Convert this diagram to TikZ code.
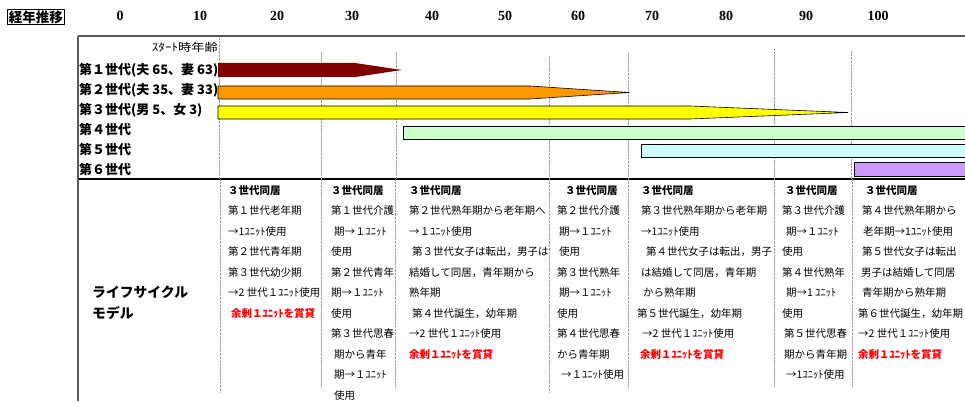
\documentclass[tikz,border=0pt]{standalone}
\usepackage{fontspec}
\newfontfamily\jp{Noto Sans CJK JP}
\newfontfamily\numf{Liberation Serif}
\definecolor{gdred}{HTML}{800000}
\definecolor{gorange}{HTML}{FF9900}
\definecolor{gyellow}{HTML}{FFFF00}
\definecolor{ggreen}{HTML}{CCFFCC}
\definecolor{gcyan}{HTML}{CCFFFF}
\definecolor{gpurple}{HTML}{CC99FF}
\newcommand{\redtx}[1]{\textcolor{red}{\textbf{#1}}}
\begin{document}
\begin{tikzpicture}[x=1pt,y=-1pt,
  axlab/.style={font=\numf\bfseries\fontsize{14}{16}\selectfont, inner sep=0},
  genlab/.style={anchor=west, inner sep=0, font=\jp\bfseries\fontsize{13}{15}\selectfont},
  colt/.style={anchor=north west, inner sep=0, align=left, font=\jp\fontsize{10.5}{20.5}\selectfont},
  grid/.style={gray!80, line width=0.6pt, dash pattern=on 0.7pt off 0.7pt},
  frame/.style={line width=1.2pt},
  barline/.style={draw=black, line width=0.6pt}]
\useasboundingbox (0,0) rectangle (965,401);
\fill[white] (0,0) rectangle (965,401);
\clip (0,0) rectangle (965,401);

% header
\node[draw, line width=0.8pt, inner sep=1.2pt, font=\jp\bfseries\fontsize{13.5}{15}\selectfont] (hdr) at (36,17) {経年推移};
\foreach \v/\x in {0/120,10/200,20/277,30/352,40/432,50/505,60/578,70/652,80/726,90/806,100/878}
  \node[axlab] (ax\v) at (\x,16) {\v};

% frame
\draw[frame, gray!70!black] (78,36) -- (965,36);
\draw[frame] (78,179) -- (965,179);
\draw[frame, gray!70!black] (78,36) -- (78,401);

% dotted grid lines
\draw[grid] (219,38) -- (219,179);
\draw[grid] (321,52) -- (321,179);
\draw[grid] (396,52) -- (396,179);
\draw[grid] (549,56) -- (549,179);
\draw[grid] (628,53) -- (628,179);
\draw[grid] (774,49) -- (774,179);
\draw[grid] (851,51) -- (851,179);
\draw[grid] (220,179) -- (220,392);
\draw[grid] (321,179) -- (321,388);
\draw[grid] (395,179) -- (395,388);
\draw[grid] (549,179) -- (549,392);
\draw[grid] (628,179) -- (628,388);
\draw[grid] (774,179) -- (774,387);
\draw[grid] (852,179) -- (852,387);

% start age label
\node[inner sep=0, font=\jp\fontsize{11}{13}\selectfont, anchor=east] (start) at (218,47) {\scalebox{1.2}[1]{ｽﾀｰﾄ時年齢}};

% generation labels
\node[genlab] (g1) at (79,70) {第１世代(夫 65、妻 63)};
\node[genlab] (g2) at (79,90) {第２世代(夫 35、妻 33)};
\node[genlab] (g3) at (79,110) {第３世代(男 5、女 3)};
\node[genlab] (g4) at (79,130) {第４世代};
\node[genlab] (g5) at (79,150) {第５世代};
\node[genlab] (g6) at (79,170) {第６世代};

% bars
\fill[gdred] (218,63) -- (355,63) -- (402,70) -- (355,77) -- (218,77) -- cycle;
\filldraw[fill=gorange, barline] (218,86) -- (530,86) -- (629,92.5) -- (530,99) -- (218,99) -- cycle;
\filldraw[fill=gyellow, barline] (218,106) -- (690,106) -- (848,112.5) -- (690,119) -- (218,119) -- cycle;
\filldraw[fill=ggreen, barline] (403,126) rectangle (975,139);
\filldraw[fill=gcyan, barline] (641,144) rectangle (975,157);
\filldraw[fill=gpurple, barline] (854,162) rectangle (975,176);

% life cycle label
\node[anchor=north west, inner sep=0, align=left, font=\jp\bfseries\fontsize{13.8}{20.5}\selectfont] (lc) at (92,286) {ライフサイクル\\モデル};

% columns
\node[colt] (c1) at (228,185) {\textbf{３世代同居}\\
第１世代老年期\\
→1ﾕﾆｯﾄ使用\\
第２世代青年期\\
第３世代幼少期\\
→2 世代１ﾕﾆｯﾄ使用\\
\hspace*{3pt}\redtx{余剰１ﾕﾆｯﾄを賞貸}};

\node[colt] (c2) at (331,185) {\textbf{３世代同居}\\
第１世代介護\\
\hspace*{3pt}期→１ﾕﾆｯﾄ\\
使用\\
第２世代青年\\
期→１ﾕﾆｯﾄ\\
使用\\
第３世代思春\\
\hspace*{3pt}期から青年\\
\hspace*{3pt}期→１ﾕﾆｯﾄ\\
\hspace*{3pt}使用};

\node[colt] (c3) at (409,185) {\textbf{３世代同居}\\
第２世代熟年期から老年期へ\\
→１ﾕﾆｯﾄ使用\\
\hspace*{3pt}第３世代女子は転出，男子は\\
結婚して同居，青年期から\\
熟年期\\
\hspace*{3pt}第４世代誕生，幼年期\\
→2 世代１ﾕﾆｯﾄ使用\\
\redtx{余剰１ﾕﾆｯﾄを賞貸}};

\node[colt] (c4) at (557,185) {\hspace*{8pt}\textbf{３世代同居}\\
第２世代介護\\
\hspace*{2pt}期→１ﾕﾆｯﾄ\\
\hspace*{2pt}使用\\
第３世代熟年\\
\hspace*{2pt}期→１ﾕﾆｯﾄ\\
使用\\
第４世代思春\\
から青年期\\
\hspace*{4pt}→１ﾕﾆｯﾄ使用};

\node[colt] (c5) at (637,185) {\hspace*{4pt}\textbf{３世代同居}\\
\hspace*{4pt}第３世代熟年期から老年期\\
\hspace*{4pt}→1ﾕﾆｯﾄ使用\\
\hspace*{9pt}第４世代女子は転出，男子\\
\hspace*{4pt}は結婚して同居，青年期\\
\hspace*{6pt}から熟年期\\
第５世代誕生，幼年期\\
\hspace*{5pt}→2 世代１ﾕﾆｯﾄ使用\\
\hspace*{3pt}\redtx{余剰１ﾕﾆｯﾄを賞貸}};

\node[colt] (c6) at (782,185) {\hspace*{3pt}\textbf{３世代同居}\\
第３世代介護\\
\hspace*{4pt}期→１ﾕﾆｯﾄ\\
使用\\
第４世代熟年\\
\hspace*{4pt}期→1 ﾕﾆｯﾄ\\
使用\\
\hspace*{2pt}第５世代思春\\
\hspace*{2pt}期から青年期\\
\hspace*{4pt}→1ﾕﾆｯﾄ使用};

\node[colt] (c7) at (858,185) {\hspace*{7pt}\textbf{３世代同居}\\
\hspace*{4pt}第４世代熟年期から\\
\hspace*{5pt}老年期→1ﾕﾆｯﾄ使用\\
\hspace*{4pt}第５世代女子は転出\\
\hspace*{3pt}男子は結婚して同居\\
\hspace*{4pt}青年期から熟年期\\
第６世代誕生，幼年期\\
→2 世代１ﾕﾆｯﾄ使用\\
\redtx{余剰１ﾕﾆｯﾄを賞貸}};
\end{tikzpicture}
\end{document}
